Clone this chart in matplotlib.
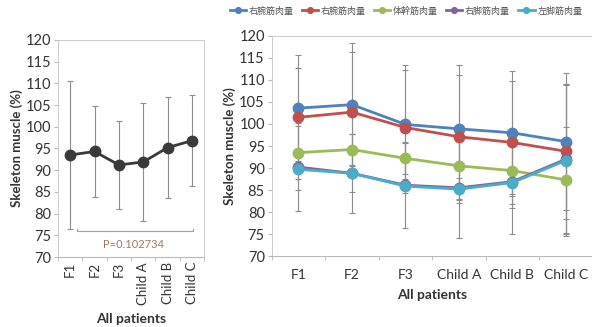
import matplotlib
matplotlib.use('Agg')
import numpy as np
import matplotlib.pyplot as plt

plt.rcParams['font.family'] = ['Lato', 'DejaVu Sans']

categories = ['F1', 'F2', 'F3', 'Child A', 'Child B', 'Child C']

# left panel: all patients mean +- sd
all_mean = [93.5, 94.3, 91.2, 91.9, 95.2, 96.8]
all_sd = [17.0, 10.4, 10.2, 13.5, 11.7, 10.4]
p_text = 'P=0.102734'

# right panel: per-region muscle mass
series_names = ['右腕筋肉量', '右腕筋肉量', '体幹筋肉量', '右脚筋肉量', '左脚筋肉量']
series_colors = ['#4f81bd', '#c0504d', '#9bbb59', '#8064a2', '#4bacc6']
arm_r = [103.6, 104.4, 99.9, 98.9, 98.0, 96.0]
arm_l = [101.5, 102.7, 99.2, 97.1, 95.8, 93.8]
trunk = [93.5, 94.2, 92.2, 90.5, 89.4, 87.3]
leg_r = [90.2, 88.8, 86.1, 85.5, 86.9, 92.0]
leg_l = [89.7, 88.8, 85.9, 85.2, 86.7, 91.7]
arm_r_sd = [12.1, 13.9, 13.4, 14.6, 14.0, 15.5]
arm_l_sd = [11.2, 13.6, 13.0, 14.1, 14.0, 15.3]
trunk_sd = [6.0, 3.6, 3.5, 8.5, 8.4, 12.1]
leg_r_sd = [10.0, 9.0, 9.8, 11.3, 12.0, 17.0]
leg_l_sd = [4.7, 4.2, 1.5, 2.5, 3.0, 17.2]

means = [arm_r, arm_l, trunk, leg_r, leg_l]
sds = [arm_r_sd, arm_l_sd, trunk_sd, leg_r_sd, leg_l_sd]

fig = plt.figure(figsize=(5.92, 3.27), dpi=100)
fig.patch.set_facecolor('white')

grid_col = '#b8b8b8'
txt_col = '#333333'
x = np.arange(len(categories))


def style_axes(ax):
    ax.set_ylim(70, 120)
    ax.set_yticks(np.arange(70, 121, 5))
    ax.set_xlim(-0.5, len(categories) - 0.5)
    ax.set_xticks(x)
    ax.set_xticks(np.arange(-0.5, len(categories), 1), minor=True)
    ax.tick_params(axis='x', which='major', length=0, colors=txt_col)
    ax.tick_params(axis='x', which='minor', length=3, color=grid_col)
    ax.tick_params(axis='y', length=3, color=grid_col, labelsize=10.5, colors=txt_col, pad=2)
    for side in ['top', 'left', 'right']:
        ax.spines[side].set_color('#cccccc')
        ax.spines[side].set_linestyle((0, (2, 1)))
        ax.spines[side].set_linewidth(0.7)
    ax.spines['bottom'].set_color(grid_col)
    ax.spines['bottom'].set_linewidth(0.8)


# left panel
ax1 = fig.add_axes([0.098, 0.214, 0.247, 0.664])
style_axes(ax1)
ax1.errorbar(x, all_mean, yerr=all_sd, fmt='none', ecolor='#8c8c8c',
             elinewidth=0.8, capsize=2.5, capthick=0.8, zorder=2)
ax1.plot(x, all_mean, color='#3a3a3a', lw=2, marker='o', ms=7.5, zorder=3)
ax1.set_xticklabels(categories, rotation=90, fontsize=9.5)
ax1.set_ylabel('Skeleton muscle (%)', fontsize=9.5, fontweight='bold', color=txt_col, labelpad=2)
ax1.set_xlabel('All patients', fontsize=10, fontweight='bold', color=txt_col, labelpad=6)
# p-value bracket
ax1.plot([0.29, 0.29, 5.04, 5.04], [76.5, 76.0, 76.0, 76.5], color='#a0a0a0', lw=0.8)
ax1.text(2.6, 72.8, p_text, ha='center', va='center', fontsize=8, color='#a07860')

# right panel
ax2 = fig.add_axes([0.459, 0.217, 0.542, 0.673])
style_axes(ax2)
ax2.spines['right'].set_visible(False)
for m, s in zip(means, sds):
    ax2.errorbar(x, m, yerr=s, fmt='none', ecolor='#8c8c8c',
                 elinewidth=0.8, capsize=2.5, capthick=0.8, zorder=2)
handles = []
for name, m, c in zip(series_names, means, series_colors):
    h, = ax2.plot(x, m, color=c, lw=2, marker='o', ms=7.5, zorder=3, label=name)
    handles.append(h)
ax2.set_xticklabels(categories, fontsize=10)
ax2.tick_params(axis='x', which='major', pad=9)
ax2.set_ylabel('Skeleton muscle (%)', fontsize=9.5, fontweight='bold', color=txt_col, labelpad=2)
ax2.set_xlabel('All patients', fontsize=10, fontweight='bold', color=txt_col, labelpad=6)

leg = fig.legend(handles=handles, loc='center', bbox_to_anchor=(0.686, 0.966), ncol=5,
                 frameon=False, handlelength=1.8, handletextpad=0.3,
                 columnspacing=0.9, markerscale=0.55,
                 prop={'family': ['Noto Sans CJK JP', 'DejaVu Sans'], 'size': 6.5})
for t in leg.get_texts():
    t.set_color('#555555')

fig.savefig('out.png', dpi=100)
